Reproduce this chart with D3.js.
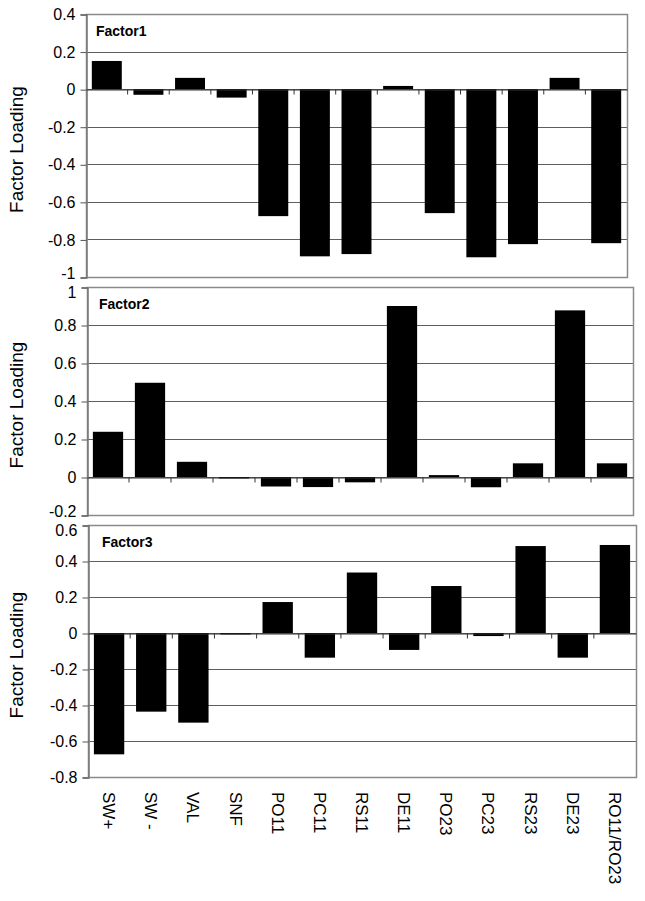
<!DOCTYPE html>
<html>
<head>
<meta charset="utf-8">
<script src="https://cdn.jsdelivr.net/npm/d3@7"></script>
<style>
  body { margin: 0; background: #fff; }
  text { font-family: "Liberation Sans", Arial, sans-serif; }
</style>
</head>
<body>
<svg id="chart" width="645" height="901"></svg>
<script>
// Categories shared by the three panels
const categories = ["SW+", "SW -", "VAL", "SNF", "PO11", "PC11", "RS11",
    "DE11", "PO23", "PC23", "RS23", "DE23", "RO11/RO23"];

// Factor loadings
const factor1 = [0.15, -0.03, 0.06, -0.045, -0.676, -0.89, -0.878,
    0.017, -0.66, -0.895, -0.825, 0.06, -0.82];
const factor2 = [0.238, 0.496, 0.08, -0.008, -0.05, -0.053, -0.028,
    0.90, 0.01, -0.054, 0.072, 0.877, 0.072];
const factor3 = [-0.674, -0.437, -0.498, -0.008, 0.172, -0.137, 0.336,
    -0.094, 0.261, -0.017, 0.483, -0.137, 0.489];

// Y tick values for each panel
const ticks1 = [0.4, 0.2, 0, -0.2, -0.4, -0.6, -0.8, -1];
const ticks2 = [1, 0.8, 0.6, 0.4, 0.2, 0, -0.2];
const ticks3 = [0.6, 0.4, 0.2, 0, -0.2, -0.4, -0.6, -0.8];

const panels = [
    { title: "Factor1", values: factor1, ticks: ticks1, x0: 86, x1: 627, y0: 14, y1: 277 },
    { title: "Factor2", values: factor2, ticks: ticks2, x0: 87, x1: 633, y0: 287, y1: 515 },
    { title: "Factor3", values: factor3, ticks: ticks3, x0: 88, x1: 636, y0: 525, y1: 777 }
];

const svg = d3.select("#chart");
svg.append("rect").attr("width", 645).attr("height", 901).attr("fill", "#fff");

const fmt = v => String(+v.toFixed(1));

panels.forEach((p, pi) => {
    const x = d3.scaleBand()
        .domain(categories)
        .range([p.x0, p.x1])
        .paddingInner(0.28)
        .paddingOuter(0.14);

    const yMin = d3.min(p.ticks), yMax = d3.max(p.ticks);
    const y = d3.scaleLinear()
        .domain([yMin, yMax])
        .range([p.y1, p.y0]);

    const g = svg.append("g");

    // gridlines
    g.selectAll("line.grid")
        .data(p.ticks)
        .enter()
        .append("line")
        .attr("x1", p.x0)
        .attr("x2", p.x1)
        .attr("y1", d => Math.round(y(d)) + 0.5)
        .attr("y2", d => Math.round(y(d)) + 0.5)
        .attr("stroke", "#5e5e5e")
        .attr("stroke-width", 1.2);

    // plot area border
    g.append("rect")
        .attr("x", p.x0 + 0.5)
        .attr("y", p.y0 + 0.5)
        .attr("width", p.x1 - p.x0)
        .attr("height", p.y1 - p.y0)
        .attr("fill", "none")
        .attr("stroke", "#8a8a8a")
        .attr("stroke-width", 1.5);

    // bars
    g.selectAll("rect.bar")
        .data(p.values)
        .enter()
        .append("rect")
        .attr("x", (d, i) => x(categories[i]))
        .attr("width", x.bandwidth())
        .attr("y", d => y(Math.max(0, d)))
        .attr("height", d => Math.max(1.5, Math.abs(y(d) - y(0))))
        .attr("fill", "#000");

    // y axis
    const yAxis = d3.axisLeft(y)
        .tickValues(p.ticks)
        .tickFormat(fmt)
        .tickSize(6)
        .tickPadding(5);
    const ya = svg.append("g")
        .attr("transform", `translate(${p.x0 + 0.5},0.5)`)
        .call(yAxis);
    ya.select(".domain").attr("stroke", "#7a7a7a").attr("stroke-width", 1.5);
    ya.selectAll(".tick line").attr("stroke", "#555");
    ya.selectAll(".tick text")
        .attr("font-size", 16)
        .attr("fill", "#000")
        .attr("font-family", "Liberation Sans, Arial, sans-serif")
        // end labels of stacked panels touch each other; nudge them apart
        .attr("dy", d => {
            if (pi > 0 && d === yMax) return "0.62em";
            if (pi < panels.length - 1 && d === yMin) return "0.05em";
            return "0.32em";
        });

    // category axis along zero
    const xAxis = d3.axisBottom(x).tickSize(0).tickFormat("");
    const xa = svg.append("g")
        .attr("transform", `translate(0,${Math.round(y(0)) + 0.5})`)
        .call(xAxis);
    xa.select(".domain").attr("stroke", "#333").attr("stroke-width", 1.2);
    // tick marks sit between categories
    xa.selectAll("line.sep")
        .data(categories.slice(1))
        .enter()
        .append("line")
        .attr("x1", d => x(d) - x.step() * x.paddingInner() / 2)
        .attr("x2", d => x(d) - x.step() * x.paddingInner() / 2)
        .attr("y1", 0)
        .attr("y2", 5)
        .attr("stroke", "#333");

    // panel title
    svg.append("text")
        .attr("x", p.x0 + 10 + pi * 2)
        .attr("y", p.y0 + 22)
        .attr("font-size", 14)
        .attr("font-weight", "bold")
        .text(p.title);

    // y axis title
    const cy = (p.y0 + p.y1) / 2 + 4;
    svg.append("text")
        .attr("transform", `translate(23,${cy}) rotate(-90)`)
        .attr("text-anchor", "middle")
        .attr("font-size", 19)
        .text("Factor Loading");

    // category labels under the last panel
    if (pi === panels.length - 1) {
        svg.selectAll("text.cat")
            .data(categories)
            .enter()
            .append("text")
            .attr("transform", d => `translate(${x(d) + x.bandwidth() / 2 - 6},${p.y1 + 15}) rotate(90)`)
            .attr("font-size", 17)
            .text(d => d);
    }
});
</script>
</body>
</html>
